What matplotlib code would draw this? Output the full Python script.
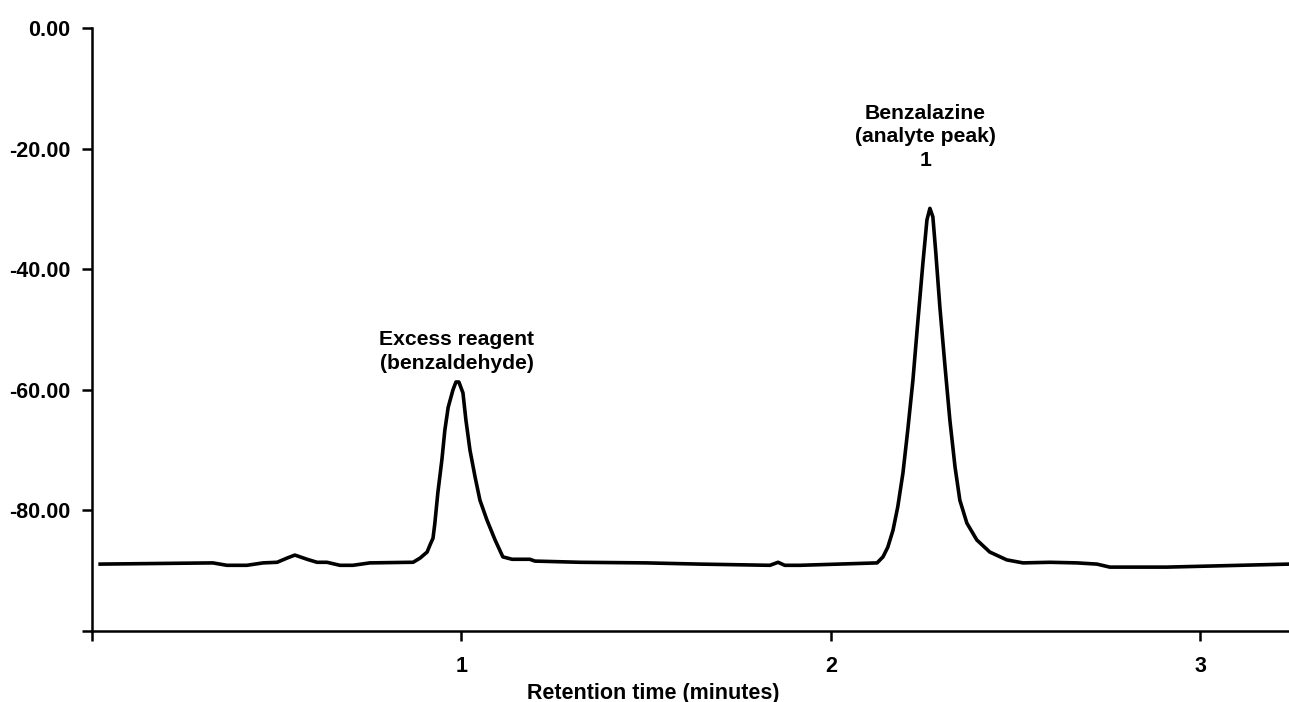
import matplotlib.pyplot as plt

plt.rcParams['font.family'] = ['Liberation Sans', 'DejaVu Sans']
plt.rcParams['font.weight'] = 'bold'

# chromatogram trace
time_min = [0.022, 0.327, 0.365, 0.419, 0.463, 0.501, 0.528, 0.549, 0.582, 0.609,
            0.636, 0.671, 0.706, 0.752, 0.861, 0.869, 0.888, 0.907, 0.915, 0.923,
            0.928, 0.936, 0.947, 0.955, 0.964, 0.977, 0.985, 0.993, 1.004, 1.012,
            1.023, 1.037, 1.050, 1.069, 1.091, 1.112, 1.137, 1.185, 1.199, 1.321,
            1.500, 1.645, 1.835, 1.857, 1.875, 1.916, 2.125, 2.141, 2.154, 2.168,
            2.181, 2.195, 2.208, 2.222, 2.235, 2.249, 2.260, 2.268, 2.276, 2.284,
            2.295, 2.309, 2.322, 2.336, 2.349, 2.368, 2.395, 2.430, 2.476, 2.520,
            2.593, 2.666, 2.720, 2.755, 2.909, 3.240]
signal = [-88.9, -88.7, -89.1, -89.1, -88.7, -88.6, -87.9, -87.4, -88.1, -88.6,
          -88.6, -89.1, -89.1, -88.7, -88.6, -88.6, -87.9, -86.9, -85.7, -84.6,
          -82.1, -77.1, -71.6, -66.7, -62.9, -60.0, -58.7, -58.7, -60.5, -65.0,
          -70.0, -74.5, -78.3, -81.6, -84.9, -87.7, -88.1, -88.1, -88.4, -88.6,
          -88.7, -88.9, -89.1, -88.6, -89.1, -89.1, -88.7, -87.7, -86.1, -83.3,
          -79.4, -73.8, -66.7, -58.4, -48.9, -39.0, -31.8, -29.9, -31.3, -37.3,
          -46.3, -56.2, -65.0, -72.8, -78.3, -82.1, -84.9, -86.9, -88.2, -88.7,
          -88.6, -88.7, -88.9, -89.4, -89.4, -88.9]

y_ticks = [0, -20, -40, -60, -80, -100]
y_labels = ['0.00', '-20.00', '-40.00', '-60.00', '-80.00', '']
x_ticks = [0, 1, 2, 3]
x_labels = ['', '1', '2', '3']

fig = plt.figure(figsize=(12.89, 7.02), dpi=100)
ax = fig.add_axes([0.0714, 0.1011, 0.9286, 0.8589])

ax.plot(time_min, signal, color='black', lw=2.6, solid_joinstyle='round')

ax.set_xlim(0, 3.24)
ax.set_ylim(-100, 0)
ax.spines['top'].set_visible(False)
ax.spines['right'].set_visible(False)
for s in ['left', 'bottom']:
    ax.spines[s].set_linewidth(1.8)

ax.set_yticks(y_ticks)
ax.set_yticklabels(y_labels)
ax.set_xticks(x_ticks)
ax.set_xticklabels(x_labels)
ax.tick_params(axis='both', direction='out', length=7, width=1.8, labelsize=15.5)
ax.tick_params(axis='y', pad=8.5)
ax.tick_params(axis='x', pad=11)

ax.set_xlabel('Retention time (minutes)', fontsize=15.5, fontweight='bold')
ax.xaxis.set_label_coords(0.469, -0.086)

ax.text(0.987, -57.2, 'Excess reagent\n(benzaldehyde)', ha='center', va='bottom',
        fontsize=15.2, fontweight='bold', linespacing=1.3)
ax.text(2.255, -23.5, 'Benzalazine\n(analyte peak)\n1', ha='center', va='bottom',
        fontsize=15.2, fontweight='bold', linespacing=1.3)

fig.savefig('out.png', dpi=100)
